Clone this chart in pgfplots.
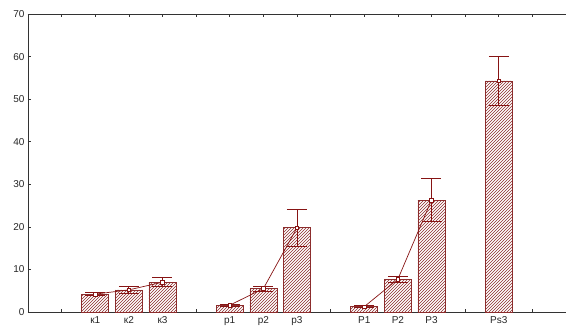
\documentclass[border=0pt]{standalone}
\usepackage{fontspec}
\setmainfont{Liberation Sans}
\usepackage{pgfplots}
\pgfplotsset{compat=1.18}
\usetikzlibrary{patterns}
\definecolor{dred}{RGB}{135,20,20}
\definecolor{hred}{RGB}{140,45,45}
\begin{document}
\begin{tikzpicture}
\useasboundingbox (-28pt,-18pt) rectangle (538pt,312pt);
\begin{axis}[
  at={(0,0)}, anchor=south west,
  scale only axis, width=538pt, height=298pt,
  xmin=-1, xmax=15, ymin=0, ymax=70,
  axis x line*=box, axis y line*=left,
  axis line style={black!80, line width=0.8pt},
  tick align=inside, major tick length=3pt,
  tick style={black!80, line width=0.6pt},
  xtick={0,...,14},
  xticklabels={,к1,к2,к3,,p1,p2,p3,,P1,P2,P3,,Ps3,},
  xtick pos=both,
  ytick={0,10,...,70}, ytick pos=left,
  tick label style={font=\fontsize{10}{12}\selectfont, text=black!85},
  /pgf/number format/assume math mode=true,
  xticklabel style={yshift=-1pt},
  clip=false,
]
\addplot[ybar, bar width=27pt, draw=hred, line width=0.6pt, fill=white,
  postaction={pattern=north east lines, pattern color=hred}]
  coordinates {(1,4.2)(2,5.2)(3,7.0)(5,1.6)(6,5.5)(7,19.8)(9,1.25)(10,7.7)(11,26.3)(13,54.3)};
\pgfplotsset{errstyle/.style={dred, line width=0.7pt, mark=square*, mark size=1.8pt,
  mark options={fill=white, draw=dred, line width=0.6pt},
  error bars/.cd, y dir=both, y explicit,
  error bar style={dred, line width=0.8pt},
  error mark options={rotate=90, mark size=10pt, dred, line width=0.8pt}}}
\addplot[errstyle] coordinates {(1,4.2) +- (0,0.4) (2,5.2) +- (0,0.8) (3,7.0) +- (0,1.1)};
\addplot[errstyle] coordinates {(5,1.6) +- (0,0.3) (6,5.5) +- (0,0.6) (7,19.8) +- (0,4.4)};
\addplot[errstyle] coordinates {(9,1.25) +- (0,0.25) (10,7.7) +- (0,0.7) (11,26.3) +- (0,5.0)};
\addplot[errstyle] coordinates {(13,54.3) +- (0,5.8)};
\end{axis}
\end{tikzpicture}
\end{document}
